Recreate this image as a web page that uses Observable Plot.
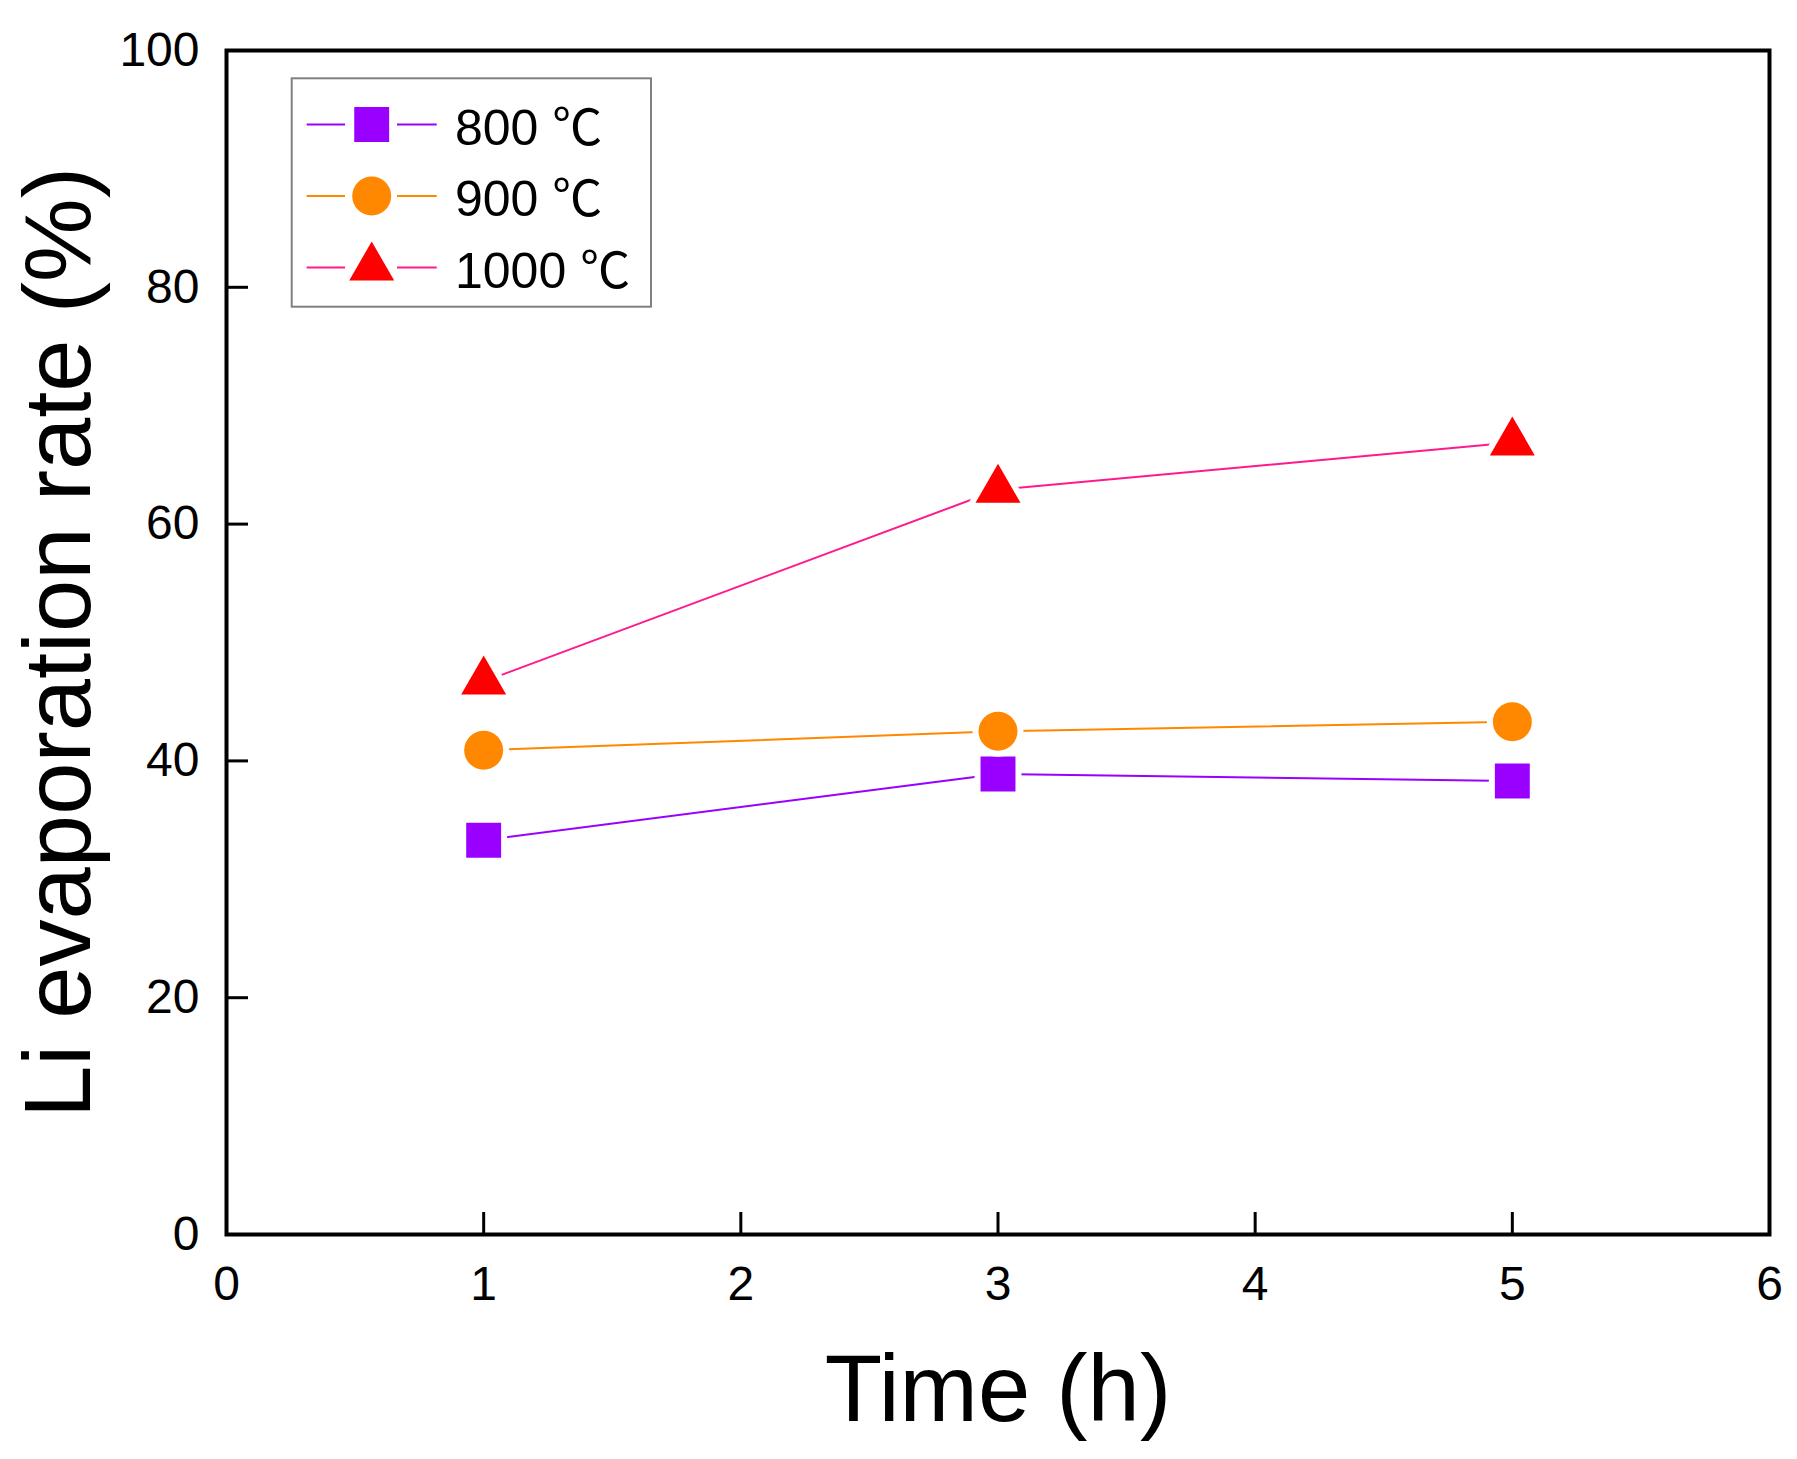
<!DOCTYPE html>
<html>
<head>
<meta charset="utf-8">
<script src="https://cdn.jsdelivr.net/npm/d3@7"></script>
<script src="https://cdn.jsdelivr.net/npm/@observablehq/plot@0.6"></script>
<style>
  html, body { margin: 0; padding: 0; background: #fff; }
  #chart { width: 1797px; height: 1459px; }
</style>
</head>
<body>
<div id="chart"></div>
<script>
// ---- data ----
const times = [1, 3, 5];
const seriesNames = ["800 ℃", "900 ℃", "1000 ℃"];
const values800 = [33.3, 38.9, 38.3];
const values900 = [40.9, 42.5, 43.3];
const values1000 = [46.7, 62.9, 66.9];
const xTicks = [0, 1, 2, 3, 4, 5, 6];
const yTicks = [0, 20, 40, 60, 80, 100];
const xTitle = "Time (h)";
const yTitle = "Li evaporation rate (%)";

// ---- styles ----
const symbols = ["square", "circle", "triangle"];
const markerFill = ["#9900ff", "#ff8800", "#ff0000"];
const lineColor = ["#9900ff", "#ff8800", "#ff1a8c"];
const markerR = [19.7, 19.5, 16.7];

const allValues = [values800, values900, values1000];
const rows = allValues.map((vals, s) => times.map((t, i) => ({time: t, value: vals[i], series: seriesNames[s]})));

const W = 1797, H = 1459;
const mL = 226, mR = 28, mT = 50, mB = 225;
const plotW = W - mL - mR, plotH = H - mT - mB;
const tickLen = 22;

const marks = [];
// inward ticks
marks.push(Plot.tickX(xTicks, {x: d => d, insetTop: plotH - tickLen, stroke: "#000", strokeWidth: 3}));
marks.push(Plot.tickY(yTicks, {y: d => d, insetRight: plotW - tickLen, stroke: "#000", strokeWidth: 3}));
// lines
rows.forEach((r, s) => {
  marks.push(Plot.line(r, {x: "time", y: "value", stroke: lineColor[s], strokeWidth: 2}));
});
// markers
rows.forEach((r, s) => {
  marks.push(Plot.dot(r, {x: "time", y: "value", symbol: symbols[s], r: markerR[s], fill: markerFill[s],
    stroke: "#fff", strokeWidth: 12, paintOrder: "stroke"}));
});
marks.push(Plot.frame({stroke: "#000", strokeWidth: 4}));
// titles
marks.push(Plot.text([xTitle], {text: d => d, frameAnchor: "bottom", textAnchor: "middle", lineAnchor: "top", dy: 120, fontSize: 94, fill: "#000"}));
marks.push(Plot.text([yTitle], {text: d => d, frameAnchor: "left", textAnchor: "middle", rotate: -90, lineAnchor: "bottom", dx: -137, fontSize: 94, fill: "#000"}));

const chart = Plot.plot({
  width: W, height: H,
  marginLeft: mL, marginRight: mR, marginTop: mT, marginBottom: mB,
  style: {fontFamily: "'Liberation Sans', Arial, sans-serif", fontSize: "48px", background: "#fff", color: "#000", overflow: "visible"},
  x: {domain: [0, 6], ticks: xTicks, tickFormat: d3.format("d"), tickSize: 0, tickPadding: 31, label: null},
  y: {domain: [0, 100], ticks: yTicks, tickFormat: d3.format("d"), tickSize: 0, tickPadding: 27, label: null},
  marks
});
document.getElementById("chart").appendChild(chart);

// ---- legend (drawn into the svg) ----
const svg = d3.select(chart.tagName.toLowerCase() === "svg" ? chart : chart.querySelector("svg"));
const lg = svg.append("g").attr("class", "legend").attr("text-anchor", "start");
const box = {x: 291.7, y: 78.3, w: 359.3, h: 228.4};
lg.append("rect").attr("x", box.x).attr("y", box.y).attr("width", box.w).attr("height", box.h)
  .attr("fill", "#fff").attr("stroke", "#808080").attr("stroke-width", 2);
const rowY = [124.5, 196, 267.5];
const symMap = {square: d3.symbolSquare, circle: d3.symbolCircle, triangle: d3.symbolTriangle};
seriesNames.forEach((name, s) => {
  const cy = rowY[s], cx = 371.7;
  lg.append("line").attr("x1", 306.7).attr("x2", 345).attr("y1", cy).attr("y2", cy)
    .attr("stroke", lineColor[s]).attr("stroke-width", 2);
  lg.append("line").attr("x1", 397).attr("x2", 436.7).attr("y1", cy).attr("y2", cy)
    .attr("stroke", lineColor[s]).attr("stroke-width", 2);
  lg.append("path").attr("transform", `translate(${cx},${cy})`)
    .attr("d", d3.symbol(symMap[symbols[s]], Math.PI * markerR[s] * markerR[s])())
    .attr("fill", markerFill[s]);
  const parts = name.split(" ");
  const t = lg.append("text").attr("x", 455).attr("y", cy + 20)
    .attr("text-anchor", "start")
    .attr("font-size", 50).attr("fill", "#000")
    .attr("font-family", "'Liberation Sans', Arial, sans-serif");
  t.append("tspan").text(parts[0] + " ");
  t.append("tspan").attr("font-family", "'Noto Sans CJK SC', sans-serif").text(parts[1]);
});
</script>
</body>
</html>
